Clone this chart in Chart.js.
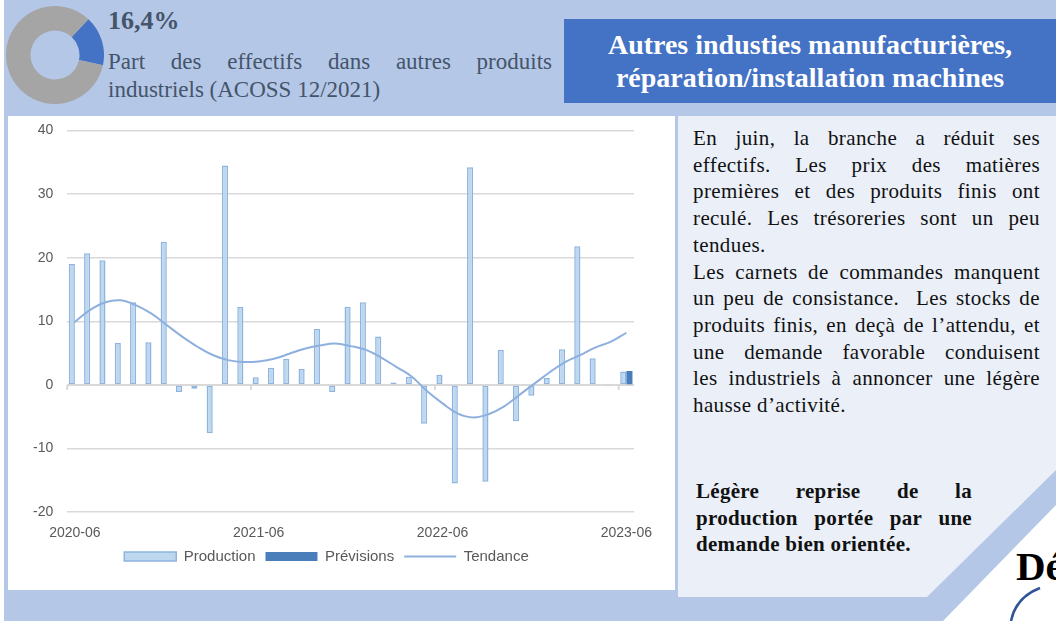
<!DOCTYPE html>
<html lang="fr">
<head>
<meta charset="utf-8">
<title>Autres industries manufacturières</title>
<script src="https://cdn.jsdelivr.net/npm/chart.js@4.4.1/dist/chart.umd.min.js"></script>
<style>
  body { margin: 0; width: 1056px; height: 621px; position: relative; overflow: hidden; background: #fff; font-family: "Liberation Serif", serif; }
  .fond { position: absolute; left: 4px; top: 0; width: 1052px; height: 621px; background: #b4c7e7; }
  .abs { position: absolute; }
  #donut-box { left: 6px; top: 6px; width: 98px; height: 98px; }
  .part-chiffre { left: 108px; top: 6px; font-weight: bold; font-size: 26px; color: #44546a; }
  .part-texte { left: 108px; top: 48px; width: 444px; font-size: 23px; line-height: 28px; color: #44546a; }
  .titre { left: 564px; top: 19px; width: 492px; height: 84px; background: #4472c4; color: #fff; font-weight: bold; font-size: 28px; line-height: 33px; text-align: center; padding-top: 9px; box-sizing: border-box; }
  .graph-box { left: 8px; top: 116px; width: 667px; height: 474px; background: #fff; }
  #graph-canvas { left: 8px; top: 108px; width: 667px; height: 482px; }
  .panneau { left: 678px; top: 116px; width: 378px; height: 481px; background: #eaeff8;
    clip-path: polygon(0 0, 378px 0, 378px 354px, 249px 481px, 0 481px); }
  .coin { left: 860px; top: 480px; width: 196px; height: 141px; background: #fff;
    clip-path: polygon(83px 141px, 196px 25px, 196px 141px); }
  .texte { left: 693px; top: 125px; width: 347px; font-size: 21px; line-height: 26.7px; color: #111; letter-spacing: 0.4px; }
  .concl { left: 696px; top: 478px; width: 276px; font-size: 21px; line-height: 26.7px; font-weight: bold; color: #111; letter-spacing: 0.3px; }
  .j { text-align: justify; text-align-last: justify; }
  .de { left: 1016px; top: 542px; font-weight: bold; font-size: 41px; color: #000; }
</style>
</head>
<body>
<div class="fond"></div>

<div id="donut-box" class="abs"><canvas id="donut" width="98" height="98"></canvas></div>
<div class="abs part-chiffre">16,4%</div>
<div class="abs part-texte">
  <div class="j">Part des effectifs dans autres produits</div>
  <div>industriels (ACOSS 12/2021)</div>
</div>

<div class="abs titre">Autres industies manufacturières,<br>réparation/installation machines</div>

<div class="abs graph-box"></div>
<div id="graph-canvas" class="abs"><canvas id="graphique" width="667" height="482"></canvas></div>

<div class="abs panneau"></div>
<div class="abs coin"></div>

<div class="abs texte">
  <div class="j">En juin, la branche a réduit ses</div>
  <div class="j">effectifs. Les prix des matières</div>
  <div class="j">premières et des produits finis ont</div>
  <div class="j">reculé. Les trésoreries sont un peu</div>
  <div>tendues.</div>
  <div class="j">Les carnets de commandes manquent</div>
  <div class="j">un peu de consistance.&nbsp; Les stocks de</div>
  <div class="j">produits finis, en deçà de l’attendu, et</div>
  <div class="j">une demande favorable conduisent</div>
  <div class="j">les industriels à annoncer une légère</div>
  <div>hausse d’activité.</div>
</div>

<div class="abs concl">
  <div class="j">Légère reprise de la</div>
  <div class="j">production portée par une</div>
  <div>demande bien orientée.</div>
</div>

<div class="abs de">Dé</div>
<svg class="abs" style="left:0;top:0" width="1056" height="621">
  <path d="M1011 621 Q1016 597 1040 588" fill="none" stroke="#2f5597" stroke-width="2.5"/>
</svg>

<script>
// donnees du graphique
const mois = ['2020-06','2020-07','2020-08','2020-09','2020-10','2020-11','2020-12',
  '2021-01','2021-02','2021-03','2021-04','2021-05','2021-06','2021-07','2021-08','2021-09','2021-10','2021-11','2021-12',
  '2022-01','2022-02','2022-03','2022-04','2022-05','2022-06','2022-07','2022-08','2022-09','2022-10','2022-11','2022-12',
  '2023-01','2023-02','2023-03','2023-04','2023-05','2023-06']

const production = [19.0, 20.7, 19.6, 6.6, 13.0, 6.7, 22.5, -1.1, -0.6, -7.6,
  34.5, 12.3, 1.2, 2.7, 4.1, 2.5, 8.8, -1.1, 12.3, 13.0,
  7.6, 0.4, 1.3, -6.1, 1.6, -15.5, 34.2, -15.2, 5.5, -5.7,
  -1.7, 1.1, 5.6, 21.8, 4.2, -0.2, 2.1]

const previsions = [null, null, null, null, null, null, null, null, null, null,
  null, null, null, null, null, null, null, null, null, null,
  null, null, null, null, null, null, null, null, null, null,
  null, null, null, null, null, null, 2.2]

const tendance = [9.9, 11.8, 13.0, 13.3, 12.5, 11.2, 9.4, 7.6, 6.0, 4.7,
  3.9, 3.6, 3.7, 4.1, 4.9, 5.7, 6.2, 6.5, 6.1, 5.5,
  4.3, 2.8, 1.3, -1.0, -2.9, -4.5, -5.1, -4.6, -3.4, -1.6,
  0.2, 2.0, 3.6, 4.7, 5.9, 6.8, 8.2]

const graduationsY = [-20, -10, 0, 10, 20, 30, 40]

// part des effectifs (donut)
const partLabels = ['Autres produits industriels', 'Reste']
const partValeurs = [16.4, 83.6]

const gris = '#595959'

new Chart(document.getElementById('donut'), {
  type: 'doughnut',
  data: {
    labels: partLabels,
    datasets: [{ data: partValeurs, backgroundColor: ['#4472c4', '#a5a5a5'], borderWidth: 0 }]
  },
  options: {
    responsive: false,
    animation: false,
    cutout: '50%',
    rotation: 43,
    plugins: { legend: { display: false }, tooltip: { enabled: false } }
  }
})

// petits traits de graduation sur la ligne du zero
const traitsZero = {
  id: 'traitsZero',
  beforeDatasetsDraw(chart) {
    const x = chart.scales.x, y = chart.scales.y
    const ctx = chart.ctx
    const y0 = y.getPixelForValue(0)
    const demi = (x.getPixelForValue(1) - x.getPixelForValue(0)) / 2
    ctx.save()
    ctx.strokeStyle = '#d9d9d9'
    ctx.lineWidth = 2
    ctx.beginPath()
    ctx.moveTo(x.left, y0)
    ctx.lineTo(x.right, y0)
    for (let i = 0; i < mois.length; i += 12) {
      const px = x.getPixelForValue(i) - demi
      ctx.moveTo(px, y0)
      ctx.lineTo(px, y0 + 5)
    }
    ctx.stroke()
    ctx.restore()
  }
}

new Chart(document.getElementById('graphique'), {
  type: 'bar',
  data: {
    labels: mois,
    datasets: [
      {
        label: 'Production',
        data: production,
        backgroundColor: '#bdd7ee',
        borderColor: '#8fb4e0',
        borderWidth: 1.5,
        borderSkipped: false,
        pointStyle: 'rect',
        order: 1
      },
      {
        label: 'Prévisions',
        data: previsions,
        backgroundColor: '#4a7ebb',
        borderColor: '#4a7ebb',
        borderWidth: 0,
        pointStyle: 'rect',
        order: 1
      },
      {
        type: 'line',
        label: 'Tendance',
        data: tendance,
        borderColor: '#8eb0de',
        backgroundColor: '#8eb0de',
        borderWidth: 2,
        pointRadius: 0,
        pointStyle: 'line',
        tension: 0.4,
        order: 0
      }
    ]
  },
  options: {
    responsive: false,
    animation: false,
    categoryPercentage: 0.8,
    barPercentage: 1.0,
    layout: { padding: { left: 11, right: 41, top: -2, bottom: 16 } },
    scales: {
      x: {
        grid: { display: false },
        border: { display: false },
        afterFit: function (axe) { axe.height -= 8 },
        ticks: {
          autoSkip: false,
          maxRotation: 0,
          color: gris,
          padding: 5,
          font: { family: 'Liberation Sans', size: 14 },
          callback: function (v, i) { return mois[i].endsWith('-06') ? mois[i] : '' }
        }
      },
      y: {
        min: -20,
        max: 40,
        afterBuildTicks: function (axe) { axe.ticks = graduationsY.map(v => ({ value: v })) },
        grid: { color: '#d9d9d9', lineWidth: 1.5, drawTicks: false },
        border: { display: false },
        ticks: { color: gris, padding: 14, font: { family: 'Liberation Sans', size: 14 } }
      }
    },
    plugins: {
      legend: {
        position: 'bottom',
        labels: {
          usePointStyle: true,
          pointStyleWidth: 52,
          boxHeight: 9,
          padding: 10,
          color: gris,
          font: { family: 'Liberation Sans', size: 15 },
          sort: (a, b) => a.datasetIndex - b.datasetIndex
        }
      },
      tooltip: { enabled: false }
    }
  },
  plugins: [traitsZero]
})
</script>
</body>
</html>
